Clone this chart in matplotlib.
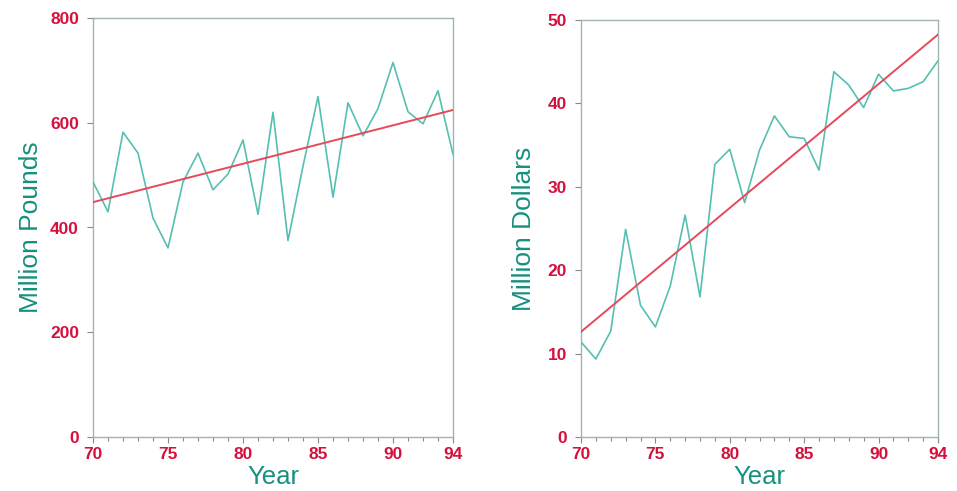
import numpy as np
import matplotlib
matplotlib.use("Agg")
import matplotlib.pyplot as plt
from matplotlib.ticker import MultipleLocator

years = list(range(70, 95))
pounds = [487, 430, 582, 542, 418, 361, 487, 542, 472, 502, 567, 425, 620, 375, 517,
          650, 458, 638, 575, 627, 715, 621, 598, 661, 540]
dollars = [11.4, 9.35, 12.7, 24.9, 15.8, 13.2, 18.1, 26.6, 16.8, 32.7, 34.5, 28.1, 34.4,
           38.5, 36.0, 35.8, 32.0, 43.8, 42.2, 39.5, 43.5, 41.5, 41.8, 42.6, 45.1]
x_ticks = [70, 75, 80, 85, 90, 94]
y_ticks_left = [0, 200, 400, 600, 800]
y_ticks_right = [0, 10, 20, 30, 40, 50]

plt.rcParams['font.family'] = ['Liberation Sans', 'DejaVu Sans']

TEAL_LINE = '#55c0b2'
RED_LINE = '#e8485c'
TICK_RED = '#d4103c'
LABEL_TEAL = '#17907f'
SPINE = '#9fb5b1'

fig = plt.figure(figsize=(9.57, 4.91), dpi=100)
ax1 = fig.add_axes([93/957, 54/491, 360/957, 419/491])
ax2 = fig.add_axes([581/957, 54/491, 357/957, 417/491])

def style(ax, ylim, yticks, ylabel, ylabel_x):
    ax.set_xlim(70, 94)
    ax.set_ylim(*ylim)
    ax.set_xticks(x_ticks)
    ax.set_yticks(yticks)
    ax.xaxis.set_minor_locator(MultipleLocator(1))
    for s in ax.spines.values():
        s.set_color(SPINE)
        s.set_linewidth(1.0)
    ax.tick_params(axis='both', which='both', direction='out', color='#888888',
                   labelcolor=TICK_RED, labelsize=12.5, length=4, width=0.8)
    ax.tick_params(axis='x', which='minor', length=3)
    ax.tick_params(axis='x', pad=3)
    ax.tick_params(axis='y', pad=6)
    for lab in ax.get_xticklabels() + ax.get_yticklabels():
        lab.set_fontweight('bold')
    ax.set_xlabel('Year', color=LABEL_TEAL, fontsize=18.5, labelpad=2)
    ax.set_ylabel(ylabel, color=LABEL_TEAL, fontsize=19)
    ax.yaxis.set_label_coords(ylabel_x, 0.5)

def draw(ax, vals):
    yrs = np.array(years, dtype=float)
    v = np.array(vals, dtype=float)
    ax.plot(yrs, v, color=TEAL_LINE, lw=1.2, zorder=3)
    slope, icpt = np.polyfit(yrs, v, 1)
    xs = np.array([yrs[0], yrs[-1]])
    ax.plot(xs, slope * xs + icpt, color=RED_LINE, lw=1.4, zorder=4)

draw(ax1, pounds)
draw(ax2, dollars)
style(ax1, (0, 800), y_ticks_left, 'Million Pounds', -0.14)
style(ax2, (0, 50), y_ticks_right, 'Million Dollars', -0.125)

fig.savefig('out.png', dpi=100)
